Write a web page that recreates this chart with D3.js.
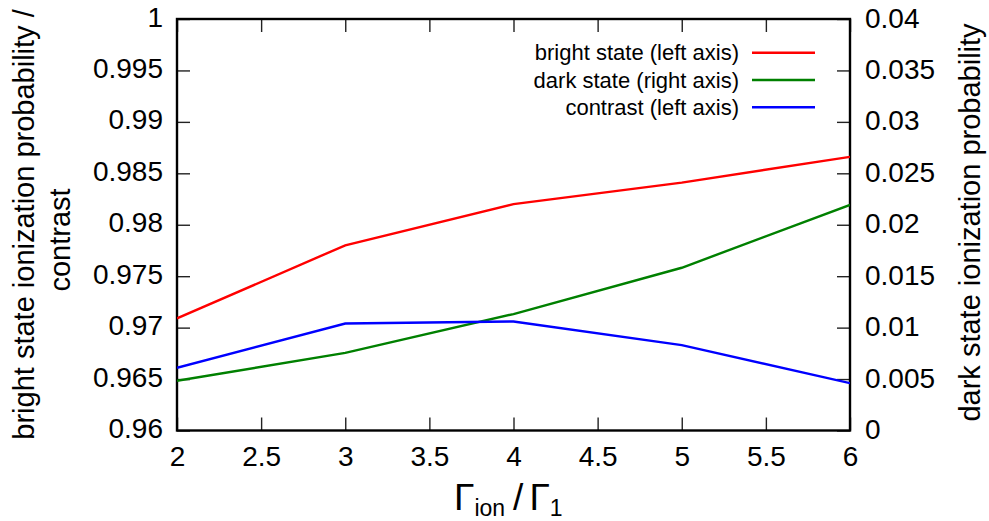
<!DOCTYPE html>
<html><head><meta charset="utf-8">
<script src="https://cdn.jsdelivr.net/npm/d3@7"></script>
<style>body{margin:0;background:#fff}svg{display:block}text{font-family:"Liberation Sans",Arial,sans-serif;fill:#000}</style>
</head><body>
<script>
const xValues = [2, 3, 4, 5, 6];
const brightState = [0.9709, 0.9780, 0.9820, 0.9841, 0.9866];
const darkState = [0.00483, 0.00755, 0.01132, 0.01582, 0.02192];
const contrast = [0.9661, 0.9704, 0.9706, 0.9683, 0.9646];
const xTicks = [2, 2.5, 3, 3.5, 4, 4.5, 5, 5.5, 6];
const yLeftTicks = [0.96, 0.965, 0.97, 0.975, 0.98, 0.985, 0.99, 0.995, 1];
const yRightTicks = [0, 0.005, 0.01, 0.015, 0.02, 0.025, 0.03, 0.035, 0.04];
const seriesNames = ["bright state (left axis)", "dark state (right axis)", "contrast (left axis)"];
const seriesColors = ["#ff0000", "#008000", "#0000ff"];

const W = 989, H = 521;
const L = 177, R = 850, T = 19, B = 430.5;
const svg = d3.select("body").append("svg").attr("width", W).attr("height", H);
const x = d3.scaleLinear().domain([2, 6]).range([L, R]);
const yL = d3.scaleLinear().domain([0.96, 1]).range([B, T]);
const yR = d3.scaleLinear().domain([0, 0.04]).range([B, T]);
const tickLen = 13, fs = 28;

function styleAxis(g) {
  g.select(".domain").remove();
  g.selectAll(".tick line").attr("stroke", "#222").attr("stroke-width", 1.4);
  g.selectAll(".tick text").style("font-size", fs + "px").attr("fill", "#000");
}
// bottom
svg.append("g").attr("transform", `translate(0,${B})`)
  .call(d3.axisBottom(x).tickValues(xTicks).tickFormat(d3.format("")).tickSizeInner(-tickLen).tickSizeOuter(0).tickPadding(0))
  .call(styleAxis).call(g => g.selectAll(".tick text").attr("y", 35).attr("dy", null));
// top
svg.append("g").attr("transform", `translate(0,${T})`)
  .call(d3.axisTop(x).tickValues(xTicks).tickSizeInner(-tickLen).tickSizeOuter(0).tickFormat(""))
  .call(styleAxis);
// left
svg.append("g").attr("transform", `translate(${L},0)`)
  .call(d3.axisLeft(yL).tickValues(yLeftTicks).tickFormat(d3.format("")).tickSizeInner(-tickLen).tickSizeOuter(0))
  .call(styleAxis).call(g => g.selectAll(".tick text").attr("x", -14).attr("dy", null).attr("y", 7));
// right
svg.append("g").attr("transform", `translate(${R},0)`)
  .call(d3.axisRight(yR).tickValues(yRightTicks).tickFormat(d3.format("")).tickSizeInner(-tickLen).tickSizeOuter(0))
  .call(styleAxis).call(g => g.selectAll(".tick text").attr("x", 15).attr("dy", null).attr("y", 8));

// border
svg.append("rect").attr("x", L).attr("y", T).attr("width", R - L).attr("height", B - T)
  .attr("fill", "none").attr("stroke", "#000").attr("stroke-width", 2.4);

// lines
const lineL = d3.line().x((d, i) => x(xValues[i])).y(d => yL(d));
const lineR = d3.line().x((d, i) => x(xValues[i])).y(d => yR(d));
svg.append("clipPath").attr("id", "c").append("rect").attr("x", L).attr("y", T).attr("width", R - L).attr("height", B - T);
const plot = svg.append("g").attr("clip-path", "url(#c)");
plot.append("path").attr("d", lineL(brightState)).attr("fill", "none").attr("stroke", seriesColors[0]).attr("stroke-width", 2.4);
plot.append("path").attr("d", lineR(darkState)).attr("fill", "none").attr("stroke", seriesColors[1]).attr("stroke-width", 2.4);
plot.append("path").attr("d", lineL(contrast)).attr("fill", "none").attr("stroke", seriesColors[2]).attr("stroke-width", 2.4);

// legend
const legY = [52.7, 80, 107.3];
seriesNames.forEach((n, i) => {
  svg.append("text").attr("x", 739).attr("y", legY[i] + 7.5).attr("text-anchor", "end").style("font-size", "22px").text(n);
  svg.append("line").attr("x1", 752).attr("x2", 815).attr("y1", legY[i]).attr("y2", legY[i])
    .attr("stroke", seriesColors[i]).attr("stroke-width", 2.4);
});

// axis labels
svg.append("text").attr("transform", "translate(34,224.5) rotate(-90)").attr("text-anchor", "middle")
  .style("font-size", "29px").text("bright state ionization probability /");
svg.append("text").attr("transform", "translate(70,240) rotate(-90)").attr("text-anchor", "middle")
  .style("font-size", "29px").text("contrast");
svg.append("text").attr("transform", "translate(980,222.5) rotate(-90)").attr("text-anchor", "middle")
  .style("font-size", "29px").text("dark state ionization probability");

const xl = svg.append("text").attr("x", 454).attr("y", 510).attr("text-anchor", "start").style("font-size", "37px");
xl.append("tspan").text("Γ");
xl.append("tspan").attr("dy", 6).style("font-size", "23px").text("ion");
xl.append("tspan").attr("dy", -6).attr("dx", 8).text("/");
xl.append("tspan").attr("dx", 6).text("Γ");
xl.append("tspan").attr("dy", 6).style("font-size", "23px").text("1");
</script>
</body></html>
